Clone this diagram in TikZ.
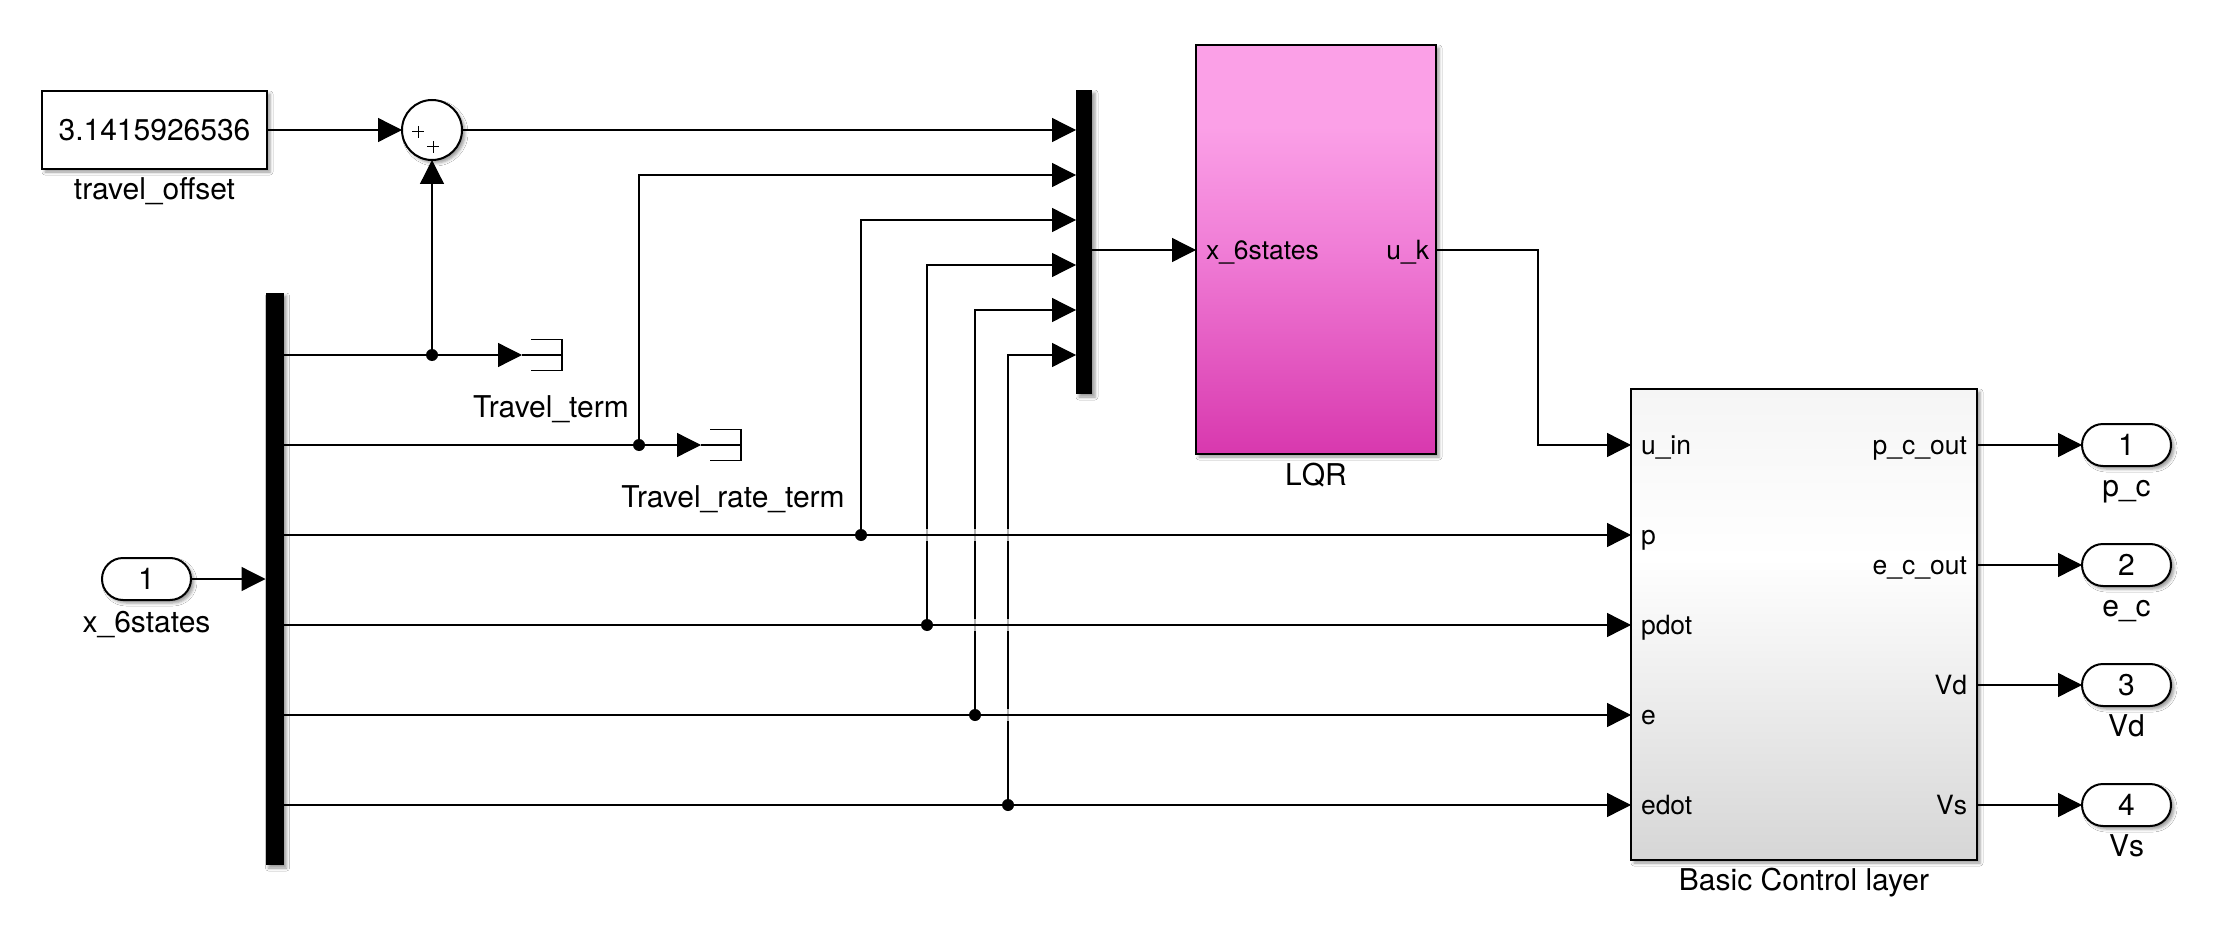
\documentclass[tikz,border=0pt]{standalone}
\usepackage{fontspec}
\setmainfont{TeX Gyre Heros}
\usetikzlibrary{arrows.meta,shadows.blur,calc}

\definecolor{lqrtop}{RGB}{251,160,231}
\definecolor{lqrmid}{RGB}{240,125,214}
\definecolor{lqrbot}{RGB}{216,56,174}
\definecolor{bcltop}{RGB}{245,245,245}
\definecolor{bclbot}{RGB}{214,214,214}

% vertical fills: the path spans 25bp (bottom) to 75bp (top)
\pgfdeclareverticalshading{lqrfill}{100bp}{color(0bp)=(lqrbot); color(25bp)=(lqrbot); color(50bp)=(lqrmid); color(65bp)=(lqrtop); color(100bp)=(lqrtop)}
\pgfdeclareverticalshading{bclfill}{100bp}{color(0bp)=(bclbot); color(25bp)=(bclbot); color(57bp)=(white); color(75bp)=(bcltop); color(100bp)=(bcltop)}

\newcommand\blkfont{\fontsize{30}{36}\selectfont}
\newcommand\prtfont{\fontsize{26.5}{32}\selectfont}

\begin{document}
\begin{tikzpicture}[x=1pt,y=-1pt,
  every node/.style={inner sep=0pt, outer sep=0pt},
  shad/.style={blur shadow={shadow xshift=3pt, shadow yshift=-3pt, shadow blur radius=3pt, shadow opacity=40}},
  blk/.style={draw=black, line width=2pt, fill=white, shad},
  bar/.style={fill=black, draw=none, shad},
  port/.style={blk, rounded corners=21pt, minimum width=89pt, minimum height=42pt, font=\blkfont},
  sig/.style={line width=1.3pt},
  arr/.style={sig, -{Triangle[length=24pt,width=24pt]}},
  dot/.style={circle, fill=black, minimum size=12pt},
  lbl/.style={font=\blkfont, anchor=base},
  plw/.style={font=\prtfont, anchor=base west},
  ple/.style={font=\prtfont, anchor=base east},
  term/.style={minimum width=40pt, minimum height=31pt},
  termicon/.style={line width=1.5pt},
]
\fill[white] (0,0) rectangle (2228,928);
\useasboundingbox (0,0) rectangle (2228,928);

% ---------- blocks ----------
\node[blk, minimum width=225pt, minimum height=78pt, font=\blkfont] (const) at (154.5,130) {3.1415926536};
\node[lbl] (constname) at (154.5,200) {travel\_offset};

\node[blk, circle, minimum size=60pt] (sum) at (432,130) {};
\draw[line width=1pt] ($(sum)+(-20,2)$) -- ($(sum)+(-8,2)$) ($(sum)+(-14,-4)$) -- ($(sum)+(-14,8)$);
\draw[line width=1pt] ($(sum)+(-5,17)$) -- ($(sum)+(7,17)$) ($(sum)+(1,11)$) -- ($(sum)+(1,23)$);

\node[bar, minimum width=16pt, minimum height=304pt] (mux) at (1084,242) {};
\node[bar, minimum width=18pt, minimum height=572pt] (demux) at (274.5,579) {};

\node[blk, shade, shading=lqrfill, minimum width=240pt, minimum height=409pt] (lqr) at (1316,249.5) {};
\node[lbl] (lqrname) at (1316,485) {LQR};
\node[plw] (lqrin) at (1206,259) {x\_6states};
\node[ple] (lqrout) at (1429,259) {u\_k};

\node[blk, shade, shading=bclfill, minimum width=346pt, minimum height=471pt] (bcl) at (1804,624.5) {};
\node[lbl] (bclname) at (1804,890) {Basic Control layer};
\node[plw] (bin1) at (1641,454) {u\_in};
\node[plw] (bin2) at (1641,544) {p};
\node[plw] (bin3) at (1641,634) {pdot};
\node[plw] (bin4) at (1641,724) {e};
\node[plw] (bin5) at (1641,814) {edot};
\node[ple] (bout1) at (1967,454) {p\_c\_out};
\node[ple] (bout2) at (1967,574) {e\_c\_out};
\node[ple] (bout3) at (1967,694) {Vd};
\node[ple] (bout4) at (1967,814) {Vs};

% inport and outports
\node[port] (in1) at (146.5,579) {1};
\node[lbl] (in1name) at (146.5,632) {x\_6states};
\node[port] (out1) at (2126.5,445) {1};
\node[lbl] (out1name) at (2126.5,496) {p\_c};
\node[port] (out2) at (2126.5,565) {2};
\node[lbl] (out2name) at (2126.5,616) {e\_c};
\node[port] (out3) at (2126.5,685) {3};
\node[lbl] (out3name) at (2126.5,736) {Vd};
\node[port] (out4) at (2126.5,805) {4};
\node[lbl] (out4name) at (2126.5,856) {Vs};

% terminators
\node[term] (term1) at (542,355) {};
\draw[termicon] (term1.west) -- (term1.east);
\draw[termicon] ($(term1.north west)+(9,0)$) -| (term1.south east) -- ($(term1.south west)+(9,0)$);
\node[lbl] (term1name) at (551,417) {Travel\_term};
\node[term] (term2) at (721,445) {};
\draw[termicon] (term2.west) -- (term2.east);
\draw[termicon] ($(term2.north west)+(9,0)$) -| (term2.south east) -- ($(term2.south west)+(9,0)$);
\node[lbl] (term2name) at (733,507) {Travel\_rate\_term};

% ---------- port coordinates ----------
\coordinate (m1) at ($(mux.north west)+(0,40)$);
\coordinate (m2) at ($(mux.north west)+(0,85)$);
\coordinate (m3) at ($(mux.north west)+(0,130)$);
\coordinate (m4) at ($(mux.north west)+(0,175)$);
\coordinate (m5) at ($(mux.north west)+(0,220)$);
\coordinate (m6) at ($(mux.north west)+(0,265)$);
\coordinate (mo) at ($(mux.east)+(0,8)$);
\coordinate (d1) at ($(demux.north east)+(0,62)$);
\coordinate (d2) at ($(demux.north east)+(0,152)$);
\coordinate (d3) at ($(demux.north east)+(0,242)$);
\coordinate (d4) at ($(demux.north east)+(0,332)$);
\coordinate (d5) at ($(demux.north east)+(0,422)$);
\coordinate (d6) at ($(demux.north east)+(0,512)$);
\coordinate (bi1) at ($(bcl.north west)+(0,56)$);
\coordinate (bo1) at ($(bcl.north east)+(0,56)$);
\coordinate (bo2) at ($(bcl.north east)+(0,176)$);
\coordinate (bo3) at ($(bcl.north east)+(0,296)$);
\coordinate (bo4) at ($(bcl.north east)+(0,416)$);

% branch points
\coordinate (j1) at (432,355);
\coordinate (j2) at (639,445);
\coordinate (j3) at (861,535);
\coordinate (j4) at (927,625);
\coordinate (j5) at (975,715);
\coordinate (j6) at (1008,805);

% ---------- signal lines ----------
\draw[arr] (const.east) -- (sum.west);
\draw[arr] (sum.east) -- (m1);
\draw[arr] (in1.east) -- (in1.east -| demux.west);

\draw[arr] (j1) -- (sum.south);
\draw[arr] (j2) |- (m2);
\draw[arr] (j3) |- (m3);
\draw[arr] (j4) |- (m4);
\draw[arr] (j5) |- (m5);
\draw[arr] (j6) |- (m6);

% line hops where branches pass behind other signals
\foreach \cx/\cy in {927/535, 975/535, 975/625, 1008/535, 1008/625, 1008/715}
  \fill[white, opacity=0.7] (\cx-2.5,\cy-6) rectangle (\cx+2.5,\cy+6);

\draw[arr] (d1) -- (term1.west);
\draw[arr] (d2) -- (term2.west);
\draw[arr] (d3) -- (d3 -| bcl.west);
\draw[arr] (d4) -- (d4 -| bcl.west);
\draw[arr] (d5) -- (d5 -| bcl.west);
\draw[arr] (d6) -- (d6 -| bcl.west);

\draw[arr] (mo) -- (mo -| lqr.west);
\draw[arr] (lqr.east |- mo) -- ++(102,0) |- (bi1);

\draw[arr] (bo1) -- (out1.west);
\draw[arr] (bo2) -- (out2.west);
\draw[arr] (bo3) -- (out3.west);
\draw[arr] (bo4) -- (out4.west);

\foreach \j in {j1,j2,j3,j4,j5,j6}
  \node[dot] at (\j) {};
\end{tikzpicture}
\end{document}
